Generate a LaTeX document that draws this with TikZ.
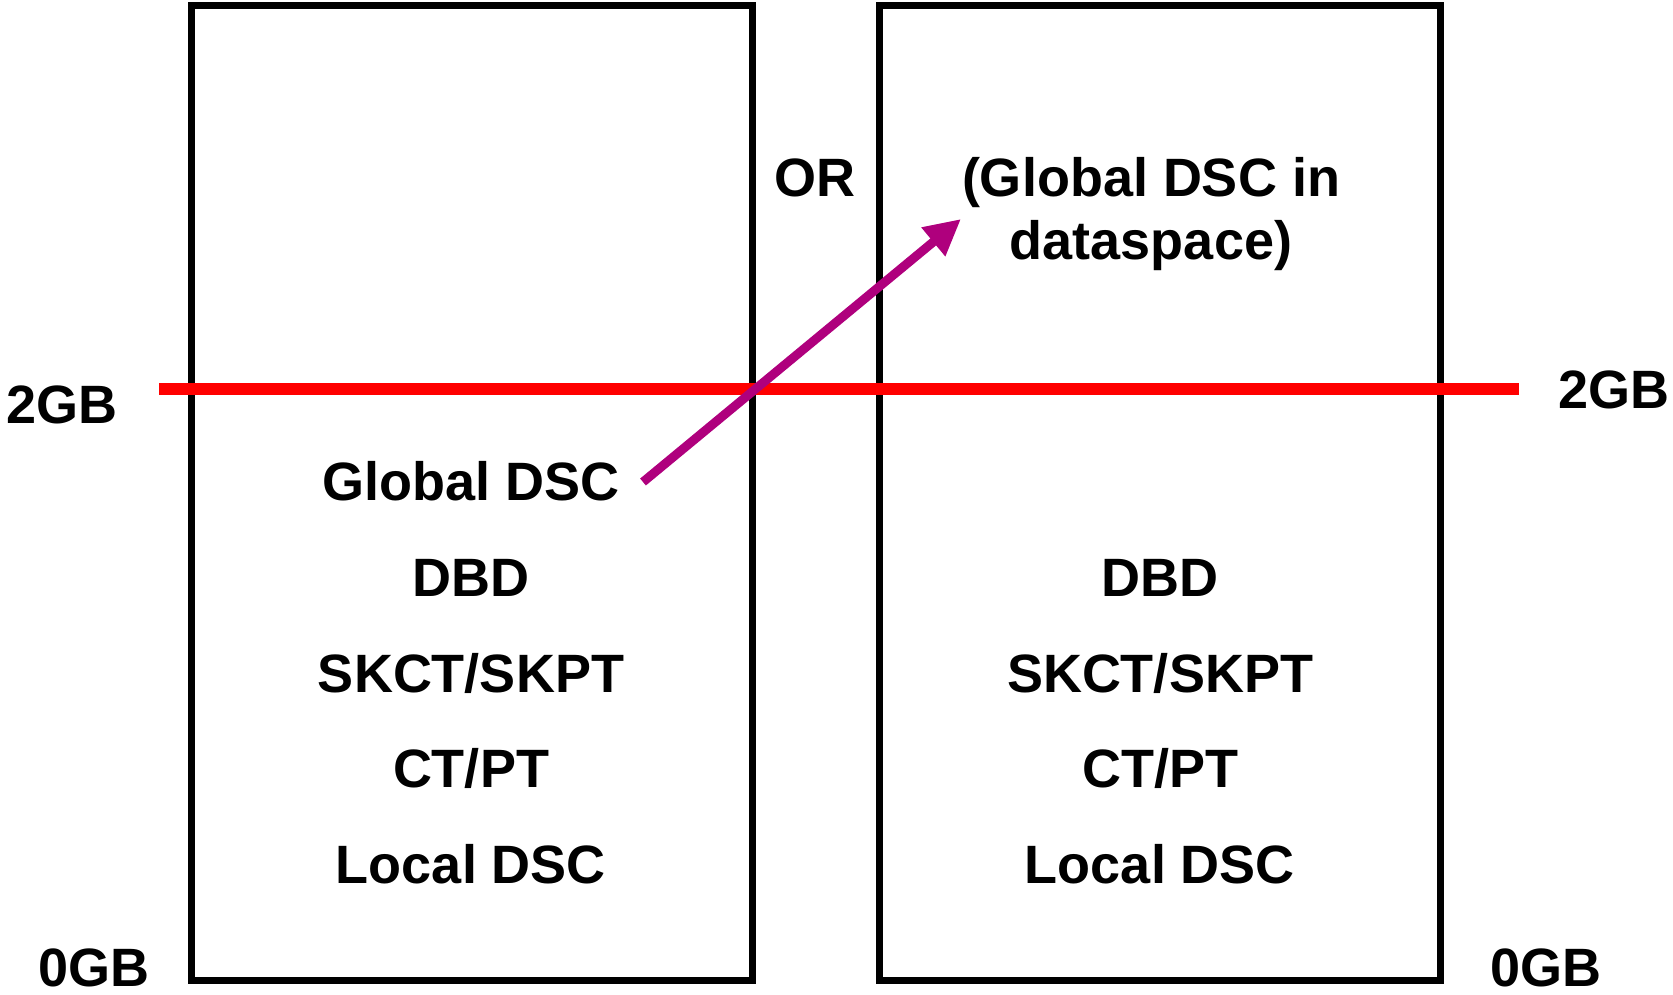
\documentclass[tikz,border=0pt]{standalone}
\usepackage{fontspec}
\setmainfont{Liberation Sans}
\usetikzlibrary{arrows.meta}
\definecolor{memred}{RGB}{255,0,0}
\definecolor{movepurple}{RGB}{175,0,125}
\tikzset{
  region/.style={draw=black, line width=7pt},
  barline/.style={draw=memred, line width=12pt},
  moveto/.style={draw=movepurple, line width=9pt,
    -{Triangle[length=36pt,width=35pt,fill=movepurple]}},
  lbl/.style={font=\fontsize{54}{60}\selectfont\bfseries, inner sep=0pt, anchor=base, align=center},
}
\begin{document}
\begin{tikzpicture}[x=1pt,y=-1pt]
\useasboundingbox (0,0) rectangle (1673,995);

% two address spaces
\draw[region] (191,6) rectangle (752,980);
\draw[region] (879,6) rectangle (1440,980);

% 2GB bar
\coordinate (barL) at (159,389);
\coordinate (barR) at (1519,389);
\draw[barline] (barL) -- (barR);

% boundary labels
\node[lbl] (twoL)  at (62,423)   {2GB};
\node[lbl] (twoR)  at (1614,408) {2GB};
\node[lbl] (zeroL) at (94,986)   {0GB};
\node[lbl] (zeroR) at (1546,986) {0GB};

% left address space contents
\node[lbl] (gdscL)  at (471,500) {Global DSC};
\node[lbl] (dbdL)   at (471,596) {DBD};
\node[lbl] (skL)    at (471,692) {SKCT/SKPT};
\node[lbl] (ctL)    at (471,787) {CT/PT};
\node[lbl] (ldscL)  at (471,883) {Local DSC};

% right address space contents
\node[lbl] (dbdR)   at (1160,596) {DBD};
\node[lbl] (skR)    at (1160,692) {SKCT/SKPT};
\node[lbl] (ctR)    at (1160,787) {CT/PT};
\node[lbl] (ldscR)  at (1160,883) {Local DSC};

% alternative placement
\node[lbl] (orlbl)  at (815,197) {OR};
\node[lbl] (gdscR1) at (1151,197) {(Global DSC in};
\node[lbl] (gdscR2) at (1151,259) {dataspace)};

% move of the global DSC
\coordinate (mvS) at (643,482);
\coordinate (mvE) at (961,219);
\draw[moveto] (mvS) -- (mvE);
\end{tikzpicture}
\end{document}
